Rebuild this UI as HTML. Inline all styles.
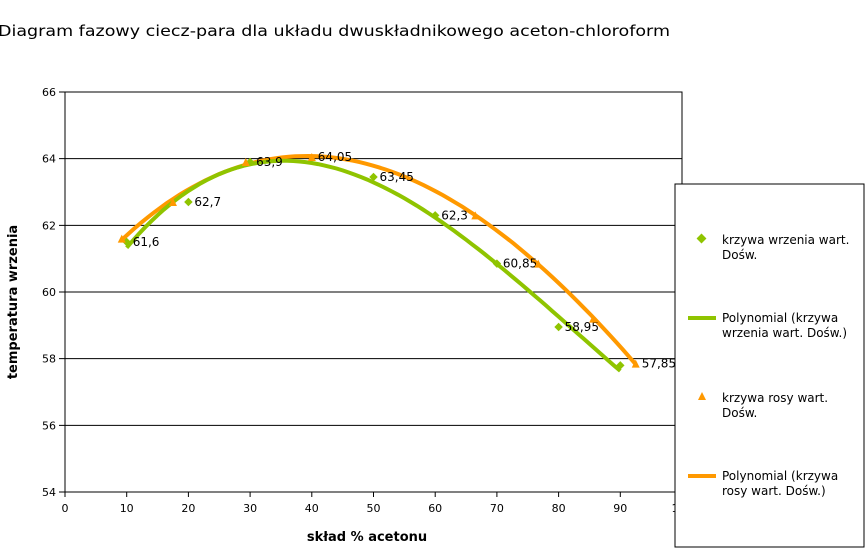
<!DOCTYPE html>
<html><head><meta charset="utf-8"><style>
body{margin:0;background:#fff;font-family:"DejaVu Sans","Liberation Sans",sans-serif}
svg text{font-family:"DejaVu Sans","Liberation Sans",sans-serif}
</style></head><body>
<svg id="c" width="867" height="549" viewBox="0 0 867 549">
<text x="-2" y="36" font-size="15" fill="#000" textLength="672" lengthAdjust="spacingAndGlyphs">Diagram fazowy ciecz-para dla układu dwuskładnikowego aceton-chloroform</text>
<rect x="65" y="92" width="617" height="400" fill="#fff" stroke="#000" stroke-width="1"/>
<g id="grid"></g><g id="axes"></g><g id="series"></g>
<text x="367" y="541" font-size="13" font-weight="bold" text-anchor="middle">skład % acetonu</text>
<text transform="translate(17,302) rotate(-90)" font-size="13" font-weight="bold" text-anchor="middle">temperatura wrzenia</text>
<g>
<rect x="675" y="184" width="189" height="363" fill="#fff" stroke="#000"/>
<g><rect x="698" y="235" width="7" height="7" fill="#8fc400" transform="rotate(45 701.5 238.5)"/><text x="722" y="244" font-size="12">krzywa wrzenia wart.</text><text x="722" y="259" font-size="12">Dośw.</text></g>
<g><line x1="688" y1="318" x2="716" y2="318" stroke="#8fc400" stroke-width="4"/><text x="722" y="322" font-size="12">Polynomial (krzywa</text><text x="722" y="337" font-size="12">wrzenia wart. Dośw.)</text></g>
<g><polygon points="702,392 698,400 706,400" fill="#ff9900"/><text x="722" y="402" font-size="12">krzywa rosy wart.</text><text x="722" y="417" font-size="12">Dośw.</text></g>
<g><line x1="688" y1="476" x2="716" y2="476" stroke="#ff9900" stroke-width="4"/><text x="722" y="480" font-size="12">Polynomial (krzywa</text><text x="722" y="495" font-size="12">rosy wart. Dośw.)</text></g>
</g>
</svg>
<script>
const xTicks=[0,10,20,30,40,50,60,70,80,90,100];
const yTicks=[54,56,58,60,62,64,66];
const boilX=[10,20,30,50,60,70,80,90];
const boilY=[61.5,62.7,63.9,63.45,62.3,60.85,58.95,57.8];
const boilLabels=['61,6','62,7','63,9','63,45','62,3','60,85','58,95',''];
const dewX=[9.2,17.5,29.3,40,66.5,76.7,85.6,92.5];
const dewY=[61.6,62.7,63.9,64.05,62.3,60.85,59.2,57.85];
const dewLabels=['','','','64,05','','','','57,85'];
const NS='http://www.w3.org/2000/svg';
const sx=v=>65+(v-0)*617/100, sy=v=>492-(v-54)*400/12;
function mk(t,a,p){const e=document.createElementNS(NS,t);for(const k in a)e.setAttribute(k,a[k]);p.appendChild(e);return e;}
const grid=document.getElementById('grid'),axes=document.getElementById('axes'),ser=document.getElementById('series');
yTicks.forEach(v=>{
 const l=mk('line',{x1:59,x2:682,y1:sy(v),y2:sy(v),stroke:'#000','stroke-width':1},grid);
 
 
 const t=mk('text',{x:56,y:sy(v)+4,'font-size':11,'text-anchor':'end'},axes);t.textContent=v;
 
 
});
xTicks.forEach(v=>{
 mk('line',{x1:sx(v),x2:sx(v),y1:492,y2:497,stroke:'#000'},axes);
 const t=mk('text',{x:sx(v),y:512,'font-size':11,'text-anchor':'middle'},axes);t.textContent=v;
 
 
});
function fit(xs,ys,deg){const n=deg+1,A=[];for(let i=0;i<n;i++){A.push(new Array(n+1).fill(0));}
 xs.forEach((x,k)=>{for(let i=0;i<n;i++){for(let j=0;j<n;j++)A[i][j]+=Math.pow(x,i+j);A[i][n]+=ys[k]*Math.pow(x,i);}});
 for(let i=0;i<n;i++){let m=i;for(let r=i+1;r<n;r++)if(Math.abs(A[r][i])>Math.abs(A[m][i]))m=r;[A[i],A[m]]=[A[m],A[i]];
  for(let r=0;r<n;r++)if(r!==i){const f=A[r][i]/A[i][i];for(let c=i;c<=n;c++)A[r][c]-=f*A[i][c];}}
 return A.map((r,i)=>r[n]/r[i]);}
function poly(c,x){return c.reduce((s,a,i)=>s+a*Math.pow(x,i),0);}
function trend(xs,ys,color,name){const c=fit(xs,ys,3);const x0=Math.min(...xs),x1=Math.max(...xs);let d='';
 for(let i=0;i<=80;i++){const x=x0+(x1-x0)*i/80;d+=(i?'L':'M')+sx(x).toFixed(1)+','+sy(poly(c,x)).toFixed(1);}
 const p=mk('path',{d:d,fill:'none',stroke:color,'stroke-width':4},ser);
 
 }
trend(dewX,dewY,'#ff9900','dew-trendline');
trend(boilX,boilY,'#8fc400','boiling-trendline');
boilX.forEach((x,i)=>{const cx=sx(x),cy=sy(boilY[i]);
 const r=mk('rect',{x:cx-3,y:cy-3,width:6,height:6,fill:'#8fc400',transform:`rotate(45 ${cx} ${cy})`},ser);
 
 
 if(boilLabels[i]){const t=mk('text',{x:cx+6,y:cy+4,'font-size':12},ser);t.textContent=boilLabels[i];
 
 }
});
dewX.forEach((x,i)=>{const cx=sx(x),cy=sy(dewY[i]);
 const p=mk('polygon',{points:`${cx},${cy-4} ${cx-4},${cy+4} ${cx+4},${cy+4}`,fill:'#ff9900'},ser);
 
 
 if(dewLabels[i]){const t=mk('text',{x:cx+6,y:cy+4,'font-size':12},ser);t.textContent=dewLabels[i];
 
 }
});
</script>
</body></html>
